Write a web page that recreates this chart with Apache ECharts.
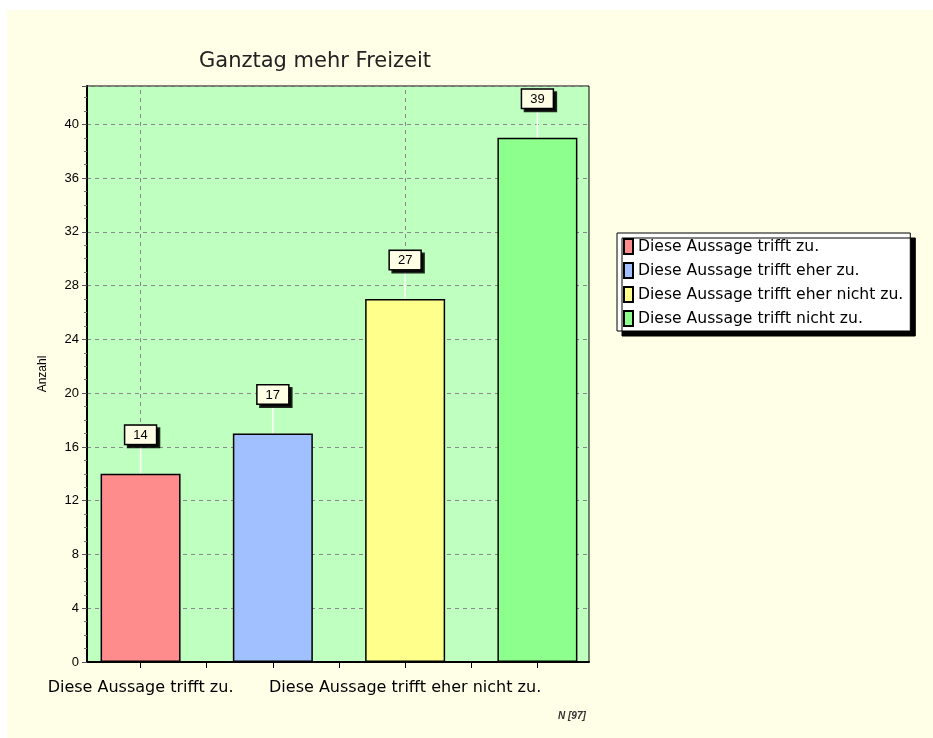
<!DOCTYPE html>
<html>
<head>
<meta charset="utf-8">
<script src="https://cdn.jsdelivr.net/npm/echarts@6/dist/echarts.min.js"></script>
<style>
html,body{margin:0;padding:0;background:#fff;}
#bg{position:absolute;left:7px;top:10px;right:0;bottom:0;background:#FFFFE8;}
#chart{position:absolute;left:0;top:0;width:933px;height:738px;}
</style>
</head>
<body>
<div id="bg"></div>
<div id="chart"></div>
<script>
const categories = ['Diese Aussage trifft zu.', 'Diese Aussage trifft eher zu.', 'Diese Aussage trifft eher nicht zu.', 'Diese Aussage trifft nicht zu.'];
const values = [14, 17, 27, 39];
const colors = ['#FF8C8C', '#A0C0FF', '#FFFF8C', '#8CFF8C'];
const xTickValues = [0, 0.5, 1, 1.5, 2, 2.5, 3];
const xLabelValues = [0, 2];
const titleText = 'Ganztag mehr Freizeit';
const yName = 'Anzahl';
const nText = 'N [97]';

const font = 'Liberation Sans, Arial, sans-serif';
const wideFont = 'DejaVu Sans, Verdana, sans-serif';
const chart = echarts.init(document.getElementById('chart'), null, {renderer: 'canvas'});

const series = categories.map((name, i) => ({
  type: 'bar',
  name: name,
  data: [[i, values[i]]],
  barWidth: 80,
  barGap: '-100%',
  z: 3,
  itemStyle: {color: colors[i], borderColor: '#000', borderWidth: 1.5},
  label: {
    show: true,
    position: 'top',
    distance: 0,
    formatter: p => String(p.value[1]),
    fontFamily: font,
    fontSize: 13,
    color: '#000',
    backgroundColor: '#FFFFE6',
    borderColor: '#000',
    borderWidth: 1.5,
    padding: [3, 8, 2, 8],
    shadowColor: 'rgba(0,0,0,0.85)',
    shadowOffsetX: 3,
    shadowOffsetY: 3,
    shadowBlur: 0
  },
  labelLayout: {dy: -30},
  labelLine: {show: true, lineStyle: {color: '#fff', width: 1.5}},
  markLine: i === 0 ? {
    silent: true,
    symbol: 'none',
    z: 1,
    label: {show: false},
    lineStyle: {color: '#888', type: [4, 4], width: 1},
    data: xLabelValues.map(v => ({xAxis: v}))
  } : undefined
}));

chart.setOption({
  animation: false,
  title: [{
    text: titleText,
    left: 194,
    top: 46,
    textStyle: {fontFamily: wideFont, fontSize: 21, fontWeight: 'normal', color: '#222'}
  }, {
    text: nText,
    left: 553,
    top: 706,
    textStyle: {fontFamily: font, fontSize: 10, fontStyle: 'italic', fontWeight: 'bold', color: '#333'}
  }],
  legend: {
    orient: 'vertical',
    left: 617,
    top: 233,
    padding: [5, 7, 4, 6],
    itemGap: 7,
    itemWidth: 9,
    itemHeight: 15,
    icon: 'rect',
    textStyle: {fontFamily: wideFont, fontSize: 15.6, color: '#000'},
    backgroundColor: '#fff',
    borderColor: '#000',
    borderWidth: 1,
    shadowColor: '#000',
    shadowOffsetX: 5,
    shadowOffsetY: 5,
    shadowBlur: 0,
    data: categories
  },
  grid: {
    left: 87, top: 86, right: 344, bottom: 76,
    show: true,
    backgroundColor: '#BFFFBF',
    borderColor: '#000',
    borderWidth: 1
  },
  xAxis: {
    type: 'value',
    min: -0.405,
    max: 3.39,
    axisLine: {show: true, onZero: false, lineStyle: {color: '#000', width: 2}},
    axisTick: {show: true, customValues: xTickValues, length: 6, lineStyle: {color: '#000'}},
    axisLabel: {
      customValues: xLabelValues,
      formatter: v => categories[Math.round(v)],
      fontFamily: wideFont, fontSize: 16, color: '#000', margin: 18
    },
    splitLine: {show: false}
  },
  yAxis: {
    type: 'value',
    min: 0,
    max: 42.85,
    interval: 4,
    name: yName,
    nameLocation: 'middle',
    nameGap: 38,
    nameRotate: 90,
    nameTextStyle: {fontFamily: font, fontSize: 12, color: '#000'},
    axisLine: {show: true, onZero: false, lineStyle: {color: '#000', width: 2}},
    axisTick: {show: true, length: 5, lineStyle: {color: '#555'}},
    minorTick: {show: true, splitNumber: 4, length: 3, lineStyle: {color: '#777'}},
    axisLabel: {showMaxLabel: false, fontFamily: font, fontSize: 13, color: '#000', margin: 8},
    splitLine: {show: true, lineStyle: {color: '#888', type: [4, 4], width: 1}}
  },
  series: series
});
</script>
</body>
</html>
